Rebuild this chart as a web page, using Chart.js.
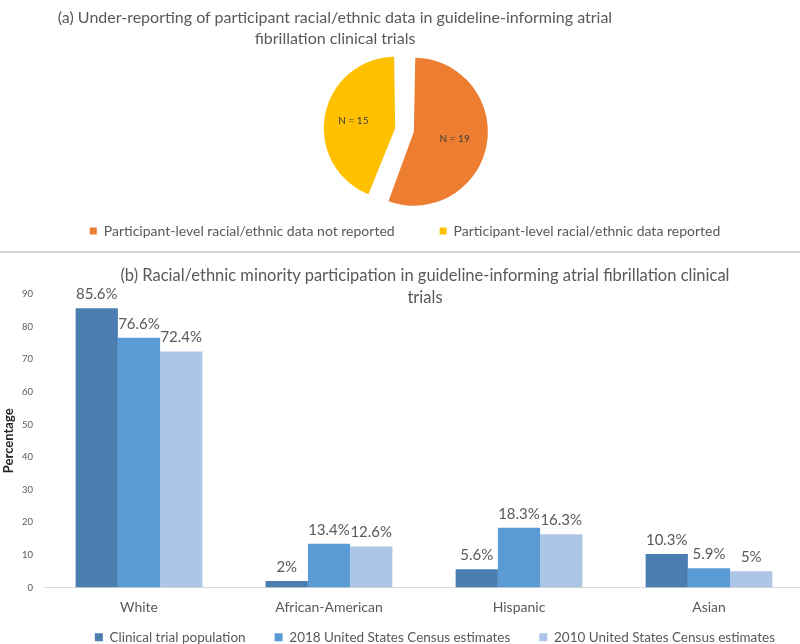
<!DOCTYPE html>
<html>
<head>
<meta charset="utf-8">
<script src="https://cdn.jsdelivr.net/npm/chart.js@4.4.1/dist/chart.umd.min.js"></script>
<style>
  html, body { margin: 0; padding: 0; background: #fff; }
  body { width: 800px; height: 644px; overflow: hidden; position: relative; font-family: Lato, sans-serif; }
  canvas { position: absolute; left: 0; }
  #pieChart { top: 0; }
  #barChart { top: 252px; }
  .divider { position: absolute; left: 0; top: 251px; width: 800px; height: 2px; background: #d4d4d4; }
  .chart-title { position: absolute; left: 0; text-align: center; color: #595959; font-size: 16px; white-space: nowrap; }
  #pieTitle { top: 6px; width: 670px; line-height: 21px; }
  #barTitle { top: 264px; width: 850px; line-height: 22px; font-size: 16.5px; }
</style>
</head>
<body>
<canvas id="pieChart" width="800" height="250"></canvas>
<div class="divider"></div>
<canvas id="barChart" width="804" height="402"></canvas>
<div class="chart-title" id="pieTitle">(a) Under-reporting of participant racial/ethnic data in guideline-informing atrial<br>fibrillation clinical trials</div>
<div class="chart-title" id="barTitle">(b) Racial/ethnic minority participation in guideline-informing atrial fibrillation clinical<br>trials</div>

<script>
// (a) trials reporting participant-level race/ethnicity
const pieLabels = [
  "Participant-level racial/ethnic data not reported",
  "Participant-level racial/ethnic data reported",
];
const pieCounts = [19, 15];
const pieColors = ["#ed7d31", "#ffc000"];

// (b) share of each group, in percent
const categories = ["White", "African-American", "Hispanic", "Asian"];
const seriesNames = [
  "Clinical trial population",
  "2018 United States Census estimates",
  "2010 United States Census estimates",
];
const trialPopulation = [85.6, 2, 5.6, 10.3];
const census2018 = [76.6, 13.4, 18.3, 5.9];
const census2010 = [72.4, 12.6, 16.3, 5];
const barColors = ["#4a7eb1", "#5a9bd5", "#adc6e6"];

const textGray = "#595959";

document.addEventListener("DOMContentLoaded", function () {
  Chart.defaults.font.family = "Lato, sans-serif";
  Chart.defaults.color = textGray;

  drawPieChart();
  drawBarChart();
});

// writes "N = x" inside each slice
const pieLabelPlugin = {
  id: "pieLabels",
  afterDatasetsDraw(chart) {
    const ctx = chart.ctx;
    const meta = chart.getDatasetMeta(0);
    ctx.save();
    ctx.font = "10px Lato";
    ctx.fillStyle = "#404040";
    ctx.textAlign = "center";
    ctx.textBaseline = "middle";
    meta.data.forEach((arc, i) => {
      const pos = arc.tooltipPosition();
      ctx.fillText("N = " + pieCounts[i], pos.x, pos.y);
    });
    ctx.restore();
  },
};

// percentage above each bar
const barLabelPlugin = {
  id: "barLabels",
  afterDatasetsDraw(chart) {
    const ctx = chart.ctx;
    ctx.save();
    ctx.font = "15px Lato";
    ctx.fillStyle = textGray;
    ctx.textAlign = "center";
    ctx.textBaseline = "middle";
    chart.data.datasets.forEach((ds, di) => {
      chart.getDatasetMeta(di).data.forEach((bar, i) => {
        ctx.fillText(ds.data[i] + "%", bar.x, bar.y - 14);
      });
    });
    ctx.restore();
  },
};

// x axis box is kept short so the legend sits close; let its labels draw below it
const axisLabelRoom = {
  id: "axisLabelRoom",
  afterLayout(chart) {
    const x = chart.scales.x;
    x.bottom = x.top + 30;
  },
};

function drawPieChart() {
  const ctx = document.getElementById("pieChart");
  new Chart(ctx, {
    type: "pie",
    data: {
      labels: pieLabels,
      datasets: [
        {
          data: pieCounts,
          backgroundColor: pieColors,
          borderWidth: 0,
          // chart.js moves a slice by offset / 4
          offset: [36, 40],
          radius: 65,
          clip: false,
        },
      ],
    },
    options: {
      responsive: false,
      animation: false,
      layout: { padding: { top: 81, left: 10, right: 0, bottom: 2 } },
      plugins: {
        tooltip: { enabled: false },
        legend: {
          position: "bottom",
          labels: {
            color: textGray,
            font: { size: 14 },
            boxWidth: 7,
            boxHeight: 7,
            padding: 45,
          },
        },
      },
    },
    plugins: [pieLabelPlugin],
  });
}

function drawBarChart() {
  const ctx = document.getElementById("barChart");
  const seriesData = [trialPopulation, census2018, census2010];

  new Chart(ctx, {
    type: "bar",
    data: {
      labels: categories,
      datasets: seriesData.map((values, i) => ({
        label: seriesNames[i],
        data: values,
        backgroundColor: barColors[i],
        borderWidth: 0,
        categoryPercentage: 0.667,
        barPercentage: 1,
      })),
    },
    options: {
      responsive: false,
      animation: false,
      layout: { padding: { top: 42, left: 0, right: 0, bottom: 0 } },
      plugins: {
        tooltip: { enabled: false },
        legend: {
          position: "bottom",
          align: "end",
          labels: {
            color: textGray,
            font: { size: 13.5 },
            boxWidth: 8,
            boxHeight: 8,
            padding: 29,
          },
        },
      },
      scales: {
        x: {
          grid: { display: false, drawTicks: false },
          border: { color: "#d9d9d9", width: 1 },
          ticks: { color: textGray, font: { size: 14 }, padding: 12 },
          afterFit: function (scale) {
            scale.height = 14;
          },
        },
        y: {
          min: 0,
          max: 90,
          grid: { display: false, drawTicks: false },
          border: { display: false },
          ticks: { stepSize: 10, color: textGray, font: { size: 9.5 }, padding: 11 },
          title: {
            display: true,
            text: "Percentage",
            color: "#262626",
            font: { size: 13, weight: "bold" },
            padding: { top: 1, bottom: 0 },
          },
          afterFit: function (scale) {
            scale.width = 44;
          },
        },
      },
    },
    plugins: [barLabelPlugin, axisLabelRoom],
  });
}
</script>
</body>
</html>
